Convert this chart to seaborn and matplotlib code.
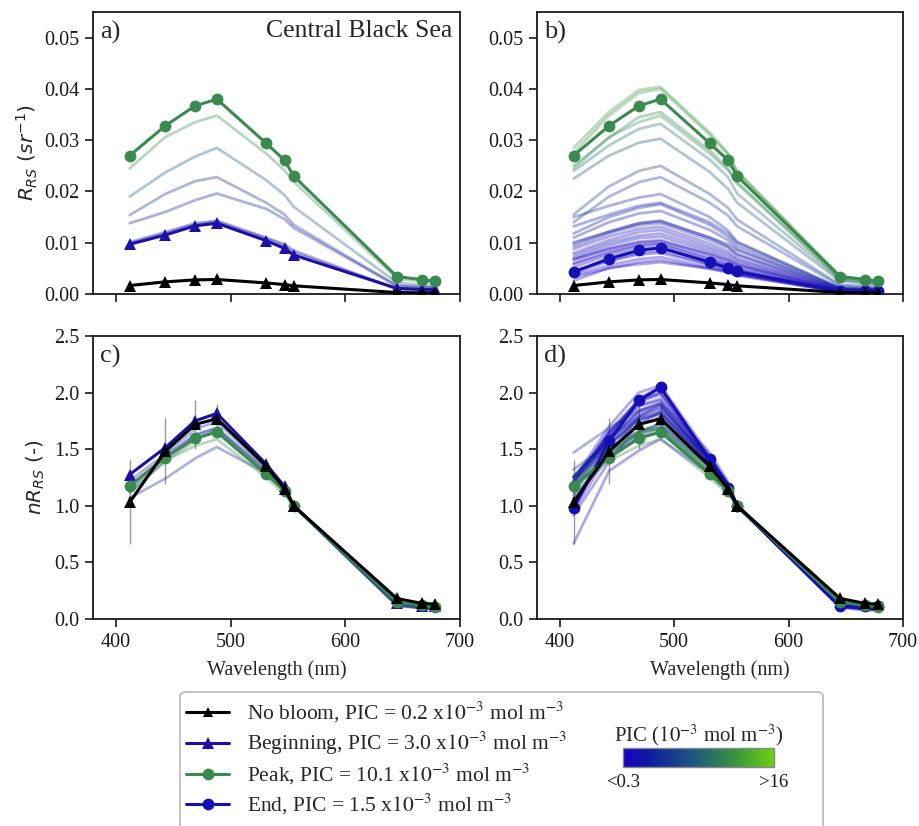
import numpy as np
import pandas as pd
import matplotlib
matplotlib.use("Agg")
import matplotlib.pyplot as plt
import seaborn as sns
from matplotlib.colors import LinearSegmentedColormap, Normalize
from matplotlib.lines import Line2D
from matplotlib.patches import FancyBboxPatch
from matplotlib.font_manager import FontProperties
from matplotlib.ticker import FormatStrFormatter
import matplotlib.cm as cm

# ---------------- data ----------------
wavelengths = [412, 443, 469, 488, 531, 547, 555, 645, 667, 678]

rrs_nobloom = [0.00165, 0.00237, 0.00275, 0.00283, 0.00216, 0.00184, 0.00160, 0.00029, 0.00022, 0.00021]
nrrs_nobloom_err = [0.37, 0.29, 0.22, 0.13, 0.05, 0.03, 0.0, 0.03, 0.02, 0.02]
rrs_beginning = [0.0097, 0.0115, 0.0133, 0.0138, 0.0104, 0.0089, 0.0076, 0.0011, 0.0009, 0.0009]
rrs_peak = [0.0270, 0.0328, 0.0367, 0.0380, 0.0294, 0.0261, 0.0230, 0.0034, 0.0028, 0.0025]
rrs_end = [0.0043, 0.0069, 0.0085, 0.0090, 0.0062, 0.0051, 0.0044, 0.0005, 0.0005, 0.0005]

# Central Black Sea, single bloom (panel a / c)
spectra_a = [
    [0.0245, 0.0306, 0.0335, 0.0348, 0.0274, 0.0241, 0.0219, 0.0030, 0.0024, 0.0022],
    [0.0190, 0.0237, 0.0268, 0.0285, 0.0222, 0.0193, 0.0170, 0.0022, 0.0017, 0.0015],
    [0.0154, 0.0195, 0.0220, 0.0228, 0.0178, 0.0155, 0.0135, 0.0016, 0.0013, 0.0012],
    [0.0138, 0.0160, 0.0183, 0.0196, 0.0166, 0.0146, 0.0129, 0.0016, 0.0013, 0.0012],
    [0.0101, 0.0121, 0.0138, 0.0143, 0.0110, 0.0097, 0.0085, 0.0010, 0.0008, 0.0007],
    [0.0099, 0.0118, 0.0136, 0.0141, 0.0108, 0.0094, 0.0081, 0.0010, 0.0008, 0.0007],
]
pic_a = [11.0, 7.5, 4.5, 3.5, 3.2, 3.1]

# all blooms (panel b / d)
spectra_b = [
    [0.0285, 0.0355, 0.0398, 0.0404, 0.0315, 0.0275, 0.0240, 0.0035, 0.0029, 0.0026],
    [0.0275, 0.0348, 0.0392, 0.0400, 0.0310, 0.0272, 0.0238, 0.0034, 0.0028, 0.0025],
    [0.0250, 0.0305, 0.0345, 0.0355, 0.0280, 0.0245, 0.0215, 0.0030, 0.0025, 0.0022],
    [0.0245, 0.0306, 0.0335, 0.0348, 0.0274, 0.0241, 0.0219, 0.0030, 0.0024, 0.0022],
    [0.0240, 0.0290, 0.0322, 0.0332, 0.0262, 0.0228, 0.0196, 0.0028, 0.0023, 0.0021],
    [0.0225, 0.0270, 0.0295, 0.0303, 0.0238, 0.0205, 0.0178, 0.0025, 0.0020, 0.0018],
    [0.0155, 0.0210, 0.0240, 0.0250, 0.0195, 0.0168, 0.0145, 0.0018, 0.0015, 0.0013],
    [0.0140, 0.0190, 0.0218, 0.0228, 0.0178, 0.0153, 0.0132, 0.0016, 0.0013, 0.0012],
    [0.0150, 0.0172, 0.0188, 0.0195, 0.0150, 0.0124, 0.0102, 0.0012, 0.0010, 0.0009],
    [0.0132, 0.0155, 0.0172, 0.0178, 0.0140, 0.0118, 0.0100, 0.0012, 0.0010, 0.0009],
    [0.0118, 0.0150, 0.0168, 0.0175, 0.0135, 0.0112, 0.0094, 0.0011, 0.0009, 0.0008],
    [0.0110, 0.0140, 0.0157, 0.0162, 0.0125, 0.0105, 0.0088, 0.0010, 0.0008, 0.0008],
    [0.0098, 0.0122, 0.0138, 0.0142, 0.0110, 0.0093, 0.0078, 0.0009, 0.0008, 0.0007],
    [0.0093, 0.0118, 0.0134, 0.0138, 0.0105, 0.0090, 0.0076, 0.0009, 0.0007, 0.0007],
    [0.0088, 0.0112, 0.0127, 0.0131, 0.0098, 0.0083, 0.0070, 0.0008, 0.0007, 0.0006],
    [0.0080, 0.0105, 0.0121, 0.0125, 0.0092, 0.0078, 0.0066, 0.0008, 0.0006, 0.0006],
    [0.0075, 0.0100, 0.0114, 0.0118, 0.0087, 0.0073, 0.0062, 0.0007, 0.0006, 0.0006],
    [0.0070, 0.0095, 0.0109, 0.0112, 0.0082, 0.0068, 0.0058, 0.0007, 0.0006, 0.0005],
    [0.0068, 0.0088, 0.0100, 0.0103, 0.0078, 0.0066, 0.0057, 0.0006, 0.0005, 0.0005],
    [0.0066, 0.0089, 0.0102, 0.0105, 0.0076, 0.0063, 0.0054, 0.0006, 0.0005, 0.0005],
    [0.0060, 0.0083, 0.0096, 0.0099, 0.0071, 0.0059, 0.0050, 0.0006, 0.0005, 0.0005],
    [0.0058, 0.0080, 0.0094, 0.0097, 0.0068, 0.0056, 0.0047, 0.0005, 0.0005, 0.0004],
    [0.0052, 0.0076, 0.0089, 0.0092, 0.0065, 0.0054, 0.0046, 0.0005, 0.0005, 0.0004],
    [0.0045, 0.0066, 0.0080, 0.0084, 0.0058, 0.0048, 0.0041, 0.0005, 0.0004, 0.0004],
    [0.0040, 0.0064, 0.0077, 0.0080, 0.0057, 0.0047, 0.0040, 0.0005, 0.0004, 0.0004],
    [0.0036, 0.0056, 0.0068, 0.0072, 0.0052, 0.0044, 0.0038, 0.0004, 0.0004, 0.0004],
    [0.0033, 0.0050, 0.0062, 0.0066, 0.0049, 0.0042, 0.0036, 0.0004, 0.0003, 0.0003],
    [0.0026, 0.0051, 0.0058, 0.0062, 0.0050, 0.0044, 0.0039, 0.0004, 0.0003, 0.0003],
    [0.0101, 0.0121, 0.0138, 0.0143, 0.0110, 0.0097, 0.0085, 0.0010, 0.0008, 0.0007],
]
pic_b = [12.0, 11.5, 10.5, 11.0, 9.0, 7.5, 5.5, 5.0, 4.0, 3.0, 2.5, 2.8, 1.8, 2.2, 1.5,
         1.2, 1.0, 0.9, 1.1, 0.8, 0.7, 0.6, 0.6, 0.35, 0.5, 0.45, 0.5, 0.4, 3.2]

legend_labels = [
    "No bloom, PIC = 0.2 x$10^{-3}$ mol m$^{-3}$",
    "Beginning, PIC = 3.0 x$10^{-3}$ mol m$^{-3}$",
    "Peak, PIC = 10.1 x$10^{-3}$ mol m$^{-3}$",
    "End, PIC = 1.5 x$10^{-3}$ mol m$^{-3}$",
]
cbar_tick_labels = ["<0.3", ">16"]
pic_range = [0.3, 16.0]

# ---------------- style ----------------
sns.set_theme(style="ticks")
plt.rcParams["font.family"] = ["Liberation Serif", "DejaVu Serif"]
plt.rcParams["mathtext.fontset"] = "stix"
plt.rcParams["axes.edgecolor"] = "#1a1a1a"
plt.rcParams["axes.linewidth"] = 1.3
plt.rcParams["xtick.color"] = "#1a1a1a"
plt.rcParams["ytick.color"] = "#1a1a1a"

col_nobloom = "black"
col_begin = "#1e0fa6"
col_peak = "#3a8a50"
col_end = "#1410b4"

cmap = LinearSegmentedColormap.from_list(
    "pic", [(0.0, "#1a00c4"), (0.17, "#0f1aa0"), (0.5, "#1f5f7a"),
            (0.75, "#3a963c"), (1.0, "#70d012")])
norm = Normalize(vmin=pic_range[0], vmax=pic_range[1])

W, H = 920, 826
fig = plt.figure(figsize=(W / 100, H / 100), dpi=100)


def frac(x0, y0, x1, y1):
    return [x0 / W, 1 - y1 / H, (x1 - x0) / W, (y1 - y0) / H]


ax_a = fig.add_axes(frac(93, 12, 460, 294))
ax_b = fig.add_axes(frac(537, 12, 903, 294))
ax_c = fig.add_axes(frac(93, 336, 460, 619))
ax_d = fig.add_axes(frac(537, 336, 903, 619))


def long_df(spectra, pics):
    rows = []
    for i, (s, p) in enumerate(zip(spectra, pics)):
        s = np.asarray(s)
        n = s / s[wavelengths.index(555)]
        for w, r, nr in zip(wavelengths, s, n):
            rows.append(dict(spec=i, pic=p, wl=w, rrs=r, nrrs=nr))
    return pd.DataFrame(rows)


def norm555(s):
    s = np.asarray(s)
    return s / s[wavelengths.index(555)]


df_a = long_df(spectra_a, pic_a)
df_b = long_df(spectra_b, pic_b)

ms = 8.5
lw = 2.2


def draw(ax, df, yvar, second, second_col, second_marker, normalized):
    sns.lineplot(data=df, x="wl", y=yvar, hue="pic", palette=cmap, hue_norm=norm,
                 units="spec", estimator=None, alpha=0.34, lw=2.0, legend=False,
                 ax=ax, zorder=2)
    f = norm555 if normalized else np.asarray
    if normalized:
        ax.errorbar(wavelengths, f(rrs_nobloom), yerr=nrrs_nobloom_err, fmt="none",
                    ecolor="#999999", elinewidth=1.0, zorder=1.5)
    sns.lineplot(x=wavelengths, y=f(second), color=second_col, marker=second_marker,
                 markersize=ms, markeredgewidth=0, lw=lw, ax=ax, zorder=4)
    sns.lineplot(x=wavelengths, y=f(rrs_peak), color=col_peak, marker="o",
                 markersize=ms, markeredgewidth=0, lw=lw, ax=ax, zorder=5)
    sns.lineplot(x=wavelengths, y=f(rrs_nobloom), color=col_nobloom, marker="^",
                 markersize=ms - 0.5, markeredgewidth=0, lw=lw, ax=ax, zorder=6)


draw(ax_a, df_a, "rrs", rrs_beginning, col_begin, "^", False)
draw(ax_b, df_b, "rrs", rrs_end, col_end, "o", False)
draw(ax_c, df_a, "nrrs", rrs_beginning, col_begin, "^", True)
draw(ax_d, df_b, "nrrs", rrs_end, col_end, "o", True)

tick_fs = 14.5
for ax in (ax_a, ax_b, ax_c, ax_d):
    ax.set_xlim(380, 700)
    ax.set_xticks([400, 500, 600, 700])
    ax.tick_params(axis="both", direction="out", length=6, width=1.2,
                   labelsize=tick_fs, pad=4)
    for sp in ax.spines.values():
        sp.set_visible(True)
    ax.set_xlabel("")
    ax.set_ylabel("")

for ax in (ax_a, ax_b):
    ax.set_ylim(0, 0.055)
    ax.set_yticks([0.0, 0.01, 0.02, 0.03, 0.04, 0.05])
    ax.yaxis.set_major_formatter(FormatStrFormatter("%.2f"))
    ax.tick_params(axis="x", labelbottom=False)
for ax in (ax_c, ax_d):
    ax.set_ylim(0, 2.5)
    ax.set_yticks([0.0, 0.5, 1.0, 1.5, 2.0, 2.5])
    ax.yaxis.set_major_formatter(FormatStrFormatter("%.1f"))
    ax.set_xlabel("Wavelength (nm)", fontsize=tick_fs, labelpad=6)

sans_label = dict(family="DejaVu Sans", size=14.5, math_fontfamily="dejavusans")
ax_a.set_ylabel(r"$R_{RS}\ (sr^{-1})$", fontdict=sans_label, labelpad=3)
ax_c.set_ylabel(r"$nR_{RS}$ (-)", fontdict=sans_label, labelpad=5)

for ax, lab in zip((ax_a, ax_b, ax_c, ax_d), ("a)", "b)", "c)", "d)")):
    ax.text(0.02, 0.97, lab, transform=ax.transAxes, ha="left", va="top", fontsize=19)
ax_a.text(0.98, 0.97, "Central Black Sea", transform=ax_a.transAxes, ha="right",
          va="top", fontsize=18.5)

# ---------------- legend ----------------
frame = FancyBboxPatch((180 / W, -0.06), (823 - 180) / W, (826 - 692) / H + 0.06,
                       boxstyle="round,pad=0,rounding_size=0.006",
                       transform=fig.transFigure, facecolor="white",
                       edgecolor="#c4c4c4", lw=1.5, zorder=-1, clip_on=False)
fig.patches.append(frame)

handles = [
    Line2D([], [], color=col_nobloom, marker="^", markersize=ms - 1, lw=lw, markeredgewidth=0),
    Line2D([], [], color=col_begin, marker="^", markersize=ms, lw=lw, markeredgewidth=0),
    Line2D([], [], color=col_peak, marker="o", markersize=ms, lw=lw, markeredgewidth=0),
    Line2D([], [], color=col_end, marker="o", markersize=ms, lw=lw, markeredgewidth=0),
]
leg_prop = FontProperties(family="Liberation Serif", size=15.5, math_fontfamily="stix")
fig.legend(handles, legend_labels, loc="upper left",
           bbox_to_anchor=(183 / W, 1 - 697 / H), bbox_transform=fig.transFigure,
           frameon=False, prop=leg_prop, handlelength=2.0, handletextpad=0.8,
           labelspacing=0.22, borderaxespad=0, borderpad=0.15)

# ---------------- colorbar ----------------
cax = fig.add_axes(frac(623, 748, 774, 767))
cax.set_zorder(5)
sm = cm.ScalarMappable(norm=norm, cmap=cmap)
cb = fig.colorbar(sm, cax=cax, orientation="horizontal")
cb.set_ticks(pic_range)
cb.set_ticklabels(cbar_tick_labels)
cb.outline.set_edgecolor("#888888")
cb.outline.set_linewidth(1.0)
cax.tick_params(length=0, labelsize=13.5, pad=5)
cax.set_title("PIC ($10^{-3}$ mol m$^{-3}$)", fontsize=15, pad=5)

fig.savefig("out.png", dpi=100)
